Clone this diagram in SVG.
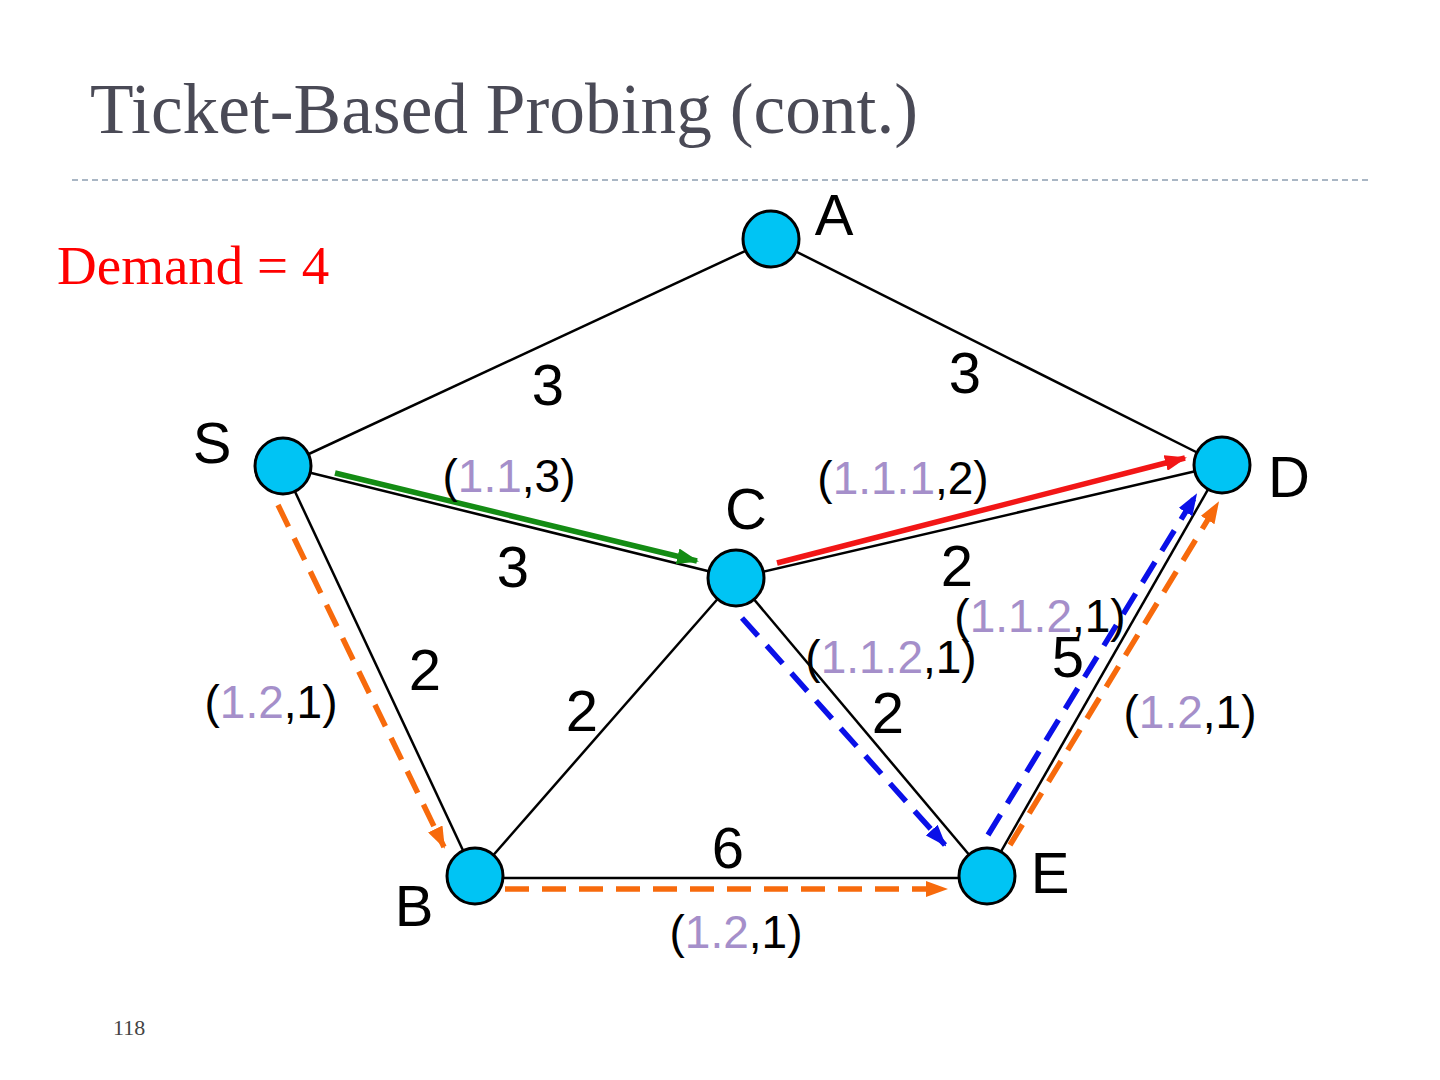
<svg xmlns="http://www.w3.org/2000/svg" width="1440" height="1080" viewBox="0 0 1440 1080">
<style>
.edge{stroke:#000;stroke-width:2.5;fill:none}
.node{fill:#00c4f4;stroke:#000;stroke-width:3}
.lbl{font-family:"Liberation Sans",Arial,sans-serif;font-size:58px;fill:#000;text-anchor:middle}
.tk{font-family:"Liberation Sans",Arial,sans-serif;font-size:46px;fill:#000;text-anchor:middle}
.p{fill:#a58fca}
.arr{fill:none;stroke-width:5.5}
.dash{stroke-dasharray:24 13}
</style>
<defs>
<marker id="hg" markerUnits="userSpaceOnUse" viewBox="0 0 22 16" markerWidth="22" markerHeight="16" refX="20" refY="8" orient="auto"><path d="M0,0 L22,8 L0,16 z" fill="#148c14"/></marker>
<marker id="hr" markerUnits="userSpaceOnUse" viewBox="0 0 22 16" markerWidth="22" markerHeight="16" refX="20" refY="8" orient="auto"><path d="M0,0 L22,8 L0,16 z" fill="#f21616"/></marker>
<marker id="hb" markerUnits="userSpaceOnUse" viewBox="0 0 22 16" markerWidth="22" markerHeight="16" refX="20" refY="8" orient="auto"><path d="M0,0 L22,8 L0,16 z" fill="#0a10e8"/></marker>
<marker id="ho" markerUnits="userSpaceOnUse" viewBox="0 0 22 16" markerWidth="22" markerHeight="16" refX="20" refY="8" orient="auto"><path d="M0,0 L22,8 L0,16 z" fill="#f76a0c"/></marker>
</defs>
<rect width="1440" height="1080" fill="#fff"/>
<text x="90" y="133" font-family="Liberation Serif,'Times New Roman',serif" font-size="72" fill="#4a4a56" textLength="828" lengthAdjust="spacingAndGlyphs">Ticket-Based Probing (cont.)</text>
<line x1="72" y1="180" x2="1368" y2="180" stroke="#a9b6c4" stroke-width="2" stroke-dasharray="6 4"/>
<text x="57" y="284" font-family="Liberation Serif,'Times New Roman',serif" font-size="55" fill="#ff0000">Demand = 4</text>
<text x="113" y="1035" font-family="Liberation Serif,'Times New Roman',serif" font-size="22" fill="#444">118</text>
<g id="edges">
<line class="edge" x1="771" y1="239" x2="283" y2="466"/>
<line class="edge" x1="771" y1="239" x2="1222" y2="465"/>
<line class="edge" x1="283" y1="466" x2="736" y2="578"/>
<line class="edge" x1="736" y1="578" x2="1222" y2="465"/>
<line class="edge" x1="283" y1="466" x2="475" y2="876"/>
<line class="edge" x1="736" y1="578" x2="475" y2="876"/>
<line class="edge" x1="736" y1="578" x2="987" y2="876"/>
<line class="edge" x1="1222" y1="465" x2="987" y2="876"/>
<line class="edge" x1="475" y1="878" x2="987" y2="878"/>
</g>
<g id="connectors">
<line class="arr" stroke="#148c14" x1="335" y1="473" x2="697" y2="561" marker-end="url(#hg)"/>
<line class="arr" stroke="#f21616" x1="777" y1="563" x2="1185" y2="458" marker-end="url(#hr)"/>
<line class="arr dash" stroke="#0a10e8" x1="742" y1="618" x2="945" y2="845" marker-end="url(#hb)"/>
<line class="arr dash" stroke="#0a10e8" x1="988" y1="835" x2="1196" y2="495" marker-end="url(#hb)"/>
<line class="arr dash" stroke="#f76a0c" x1="278" y1="505" x2="444" y2="847" marker-end="url(#ho)"/>
<line class="arr dash" stroke="#f76a0c" x1="1010" y1="845" x2="1218" y2="503" marker-end="url(#ho)"/>
<line class="arr dash" stroke="#f76a0c" x1="505" y1="889" x2="946" y2="889" marker-end="url(#ho)"/>
</g>
<g id="node-A"><circle class="node" cx="771" cy="239" r="28"/><text class="lbl" x="834" y="235">A</text></g>
<g id="node-S"><circle class="node" cx="283" cy="466" r="28"/><text class="lbl" x="212" y="463">S</text></g>
<g id="node-D"><circle class="node" cx="1222" cy="465" r="28"/><text class="lbl" x="1289" y="497">D</text></g>
<g id="node-C"><circle class="node" cx="736" cy="578" r="28"/><text class="lbl" x="746" y="529">C</text></g>
<g id="node-B"><circle class="node" cx="475" cy="876" r="28"/><text class="lbl" x="414" y="926">B</text></g>
<g id="node-E"><circle class="node" cx="987" cy="876" r="28"/><text class="lbl" x="1050" y="893">E</text></g>
<g id="weights">
<text class="lbl" x="548" y="405">3</text>
<text class="lbl" x="965" y="393">3</text>
<text class="lbl" x="513" y="587">3</text>
<text class="lbl" x="957" y="586">2</text>
<text class="lbl" x="425" y="690">2</text>
<text class="lbl" x="582" y="731">2</text>
<text class="lbl" x="888" y="733">2</text>
<text class="lbl" x="1068" y="677">5</text>
<text class="lbl" x="728" y="868">6</text>
</g>
<g id="tickets">
<text class="tk" x="509" y="492">(<tspan class="p">1.1</tspan>,3)</text>
<text class="tk" x="903" y="494">(<tspan class="p">1.1.1</tspan>,2)</text>
<text class="tk" x="1040" y="632">(<tspan class="p">1.1.2</tspan>,1)</text>
<text class="tk" x="891" y="673">(<tspan class="p">1.1.2</tspan>,1)</text>
<text class="tk" x="271" y="718">(<tspan class="p">1.2</tspan>,1)</text>
<text class="tk" x="1190" y="728">(<tspan class="p">1.2</tspan>,1)</text>
<text class="tk" x="736" y="948">(<tspan class="p">1.2</tspan>,1)</text>
</g>
</svg>
